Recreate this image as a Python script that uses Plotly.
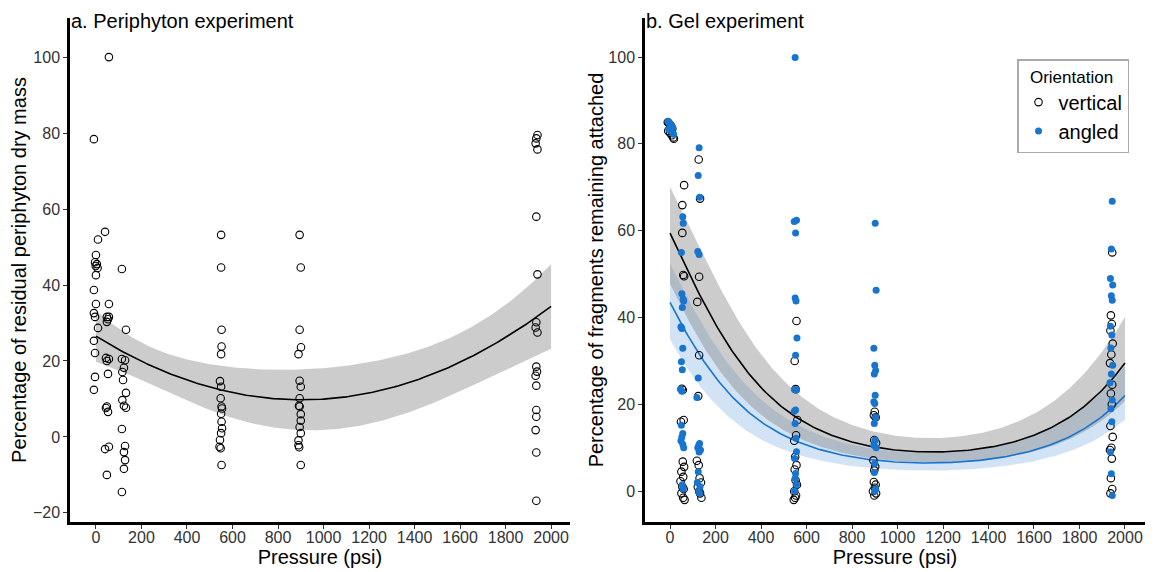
import numpy as np
import plotly.graph_objects as go

# ---------------- Panel a: Periphyton experiment ----------------
peri_pressure = [
    -9, 9, 0, -4, 4, -1, 7, 0, -9, 0, -9, -4, 9, -9, -4, -4, -9,
    57, 40, 57, 48, 53, 57, 48, 44, 57, 48, 53, 48, 44, 53, 40, 57, 48,
    114, 132, 114, 128, 123, 116, 119, 132, 116, 123, 132, 114, 128, 123, 128, 123, 114,
    550, 550, 552, 552, 550, 545, 550, 548, 552, 554, 550, 552, 554, 550, 545, 543, 548, 552,
    895, 900, 895, 901, 890, 895, 900, 895, 892, 895, 900, 900, 895, 900, 890, 890, 893, 900,
    1940, 1935, 1932, 1940, 1935, 1940, 1935, 1932, 1940, 1935, 1938, 1932, 1935, 1935, 1935, 1932, 1935, 1935,
]
peri_mass = [
    78.4, 52.0, 47.9, 46.0, 45.5, 45.0, 44.5, 42.6, 38.7, 35.0, 32.6, 31.6, 28.7, 25.3, 22.1, 15.8, 12.4,
    100, 54.0, 35.0, 31.6, 31.0, 31.6, 30.3, 20.8, 20.5, 20.0, 16.6, 8.0, 7.6, 6.6, -3.2, -2.6, -10.0,
    44.2, 28.2, 20.5, 20.2, 18.2, 17.1, 15.0, 11.6, 9.7, 8.2, 7.7, 2.1, -2.4, -4.0, -6.1, -8.4, -14.5,
    53.2, 44.6, 28.2, 23.8, 21.8, 14.7, 13.2, 10.2, 8.0, 7.5, 6.1, 4.0, 2.3, 1.0, -0.8, -2.6, -3.0, -7.4,
    53.2, 44.6, 28.2, 23.6, 21.8, 14.8, 13.2, 10.2, 8.2, 8.0, 6.0, 4.3, 2.6, 1.0, -0.9, -2.2, -2.7, -7.4,
    79.5, 78.6, 77.3, 75.7, 58.0, 42.8, 30.2, 28.8, 27.5, 18.5, 17.2, 16.1, 13.5, 7.1, 5.3, 1.8, -4.1, -16.8,
]

# ---------------- Panel b: Gel experiment ----------------
vert_pressure = [
    -10, -6, -2, 2, 6, 10, -8, 0, 8, 14, 17,
    62, 54, 54, 58, 62, 52, 56, 60, 48, 56, 62, 50, 58, 46, 54, 60, 50, 58, 64,
    126, 132, 128, 120, 128, 124, 118, 126, 130, 136, 122, 128, 132, 138,
    556, 548, 552, 560, 554, 546, 550, 556, 548, 552, 558, 546, 554, 550, 544,
    900, 896, 904, 898, 906, 894, 902, 898, 896, 904, 900, 892, 906, 898,
    1944, 1938, 1942, 1936, 1946, 1940, 1934, 1944, 1938, 1942, 1936, 1946, 1940, 1934, 1942, 1938, 1944, 1936,
]
vert_attached = [
    85.0, 84.8, 84.5, 84.2, 84.0, 83.5, 83.0, 82.5, 82.0, 81.5, 81.2,
    70.5, 65.9, 59.5, 49.8, 49.5, 23.6, 23.3, 16.4, 16.0, 6.8, 5.6, 4.5, 3.3, 2.3, 1.0, 0.5, -0.5, -1.5, -2.0,
    76.4, 67.4, 49.4, 43.6, 31.3, 21.9, 7.0, 6.0, 3.0, 2.0, 1.0, 0.0, -0.5, -1.5,
    39.2, 30.0, 23.5, 16.4, 12.9, 11.6, 7.9, 6.0, 5.0, 2.5, 1.5, 0.0, -1.0, -1.5, -2.0,
    18.3, 17.5, 17.0, 11.8, 11.1, 7.1, 5.7, 4.8, 2.1, 1.5, 0.8, 0.0, -0.5, -1.0,
    55.0, 40.5, 38.5, 37.0, 34.0, 31.5, 29.5, 24.5, 22.5, 20.0, 15.0, 12.5, 10.0, 9.5, 7.5, 3.0, 0.5, -0.5,
]
ang_pressure = [
    -8, -4, 0, 4, 8, 12, -6, 2, 10, 16,
    56, 58, 50, 52, 58, 60, 54, 48, 52, 56, 50, 54, 46, 52, 50, 56, 52, 48, 56, 60, 54, 58,
    128, 124, 130, 122, 128, 124, 118, 130, 126, 122, 134, 128, 124, 120, 132, 126, 130,
    550, 556, 546, 552, 550, 554, 558, 552, 548, 556, 552, 546, 550, 554, 556, 548, 552, 550, 556, 548,
    902, 906, 896, 900, 904, 898, 902, 896, 900, 904, 898, 902, 896, 906, 900, 898, 904, 900,
    1944, 1940, 1936, 1946, 1940, 1944, 1936, 1942, 1938, 1946, 1940, 1934, 1944, 1938, 1942, 1936, 1940, 1944,
]
ang_attached = [
    85.2, 84.9, 84.6, 84.3, 84.0, 83.7, 83.4, 83.0, 82.6, 82.2,
    63.2, 61.7, 55.0, 45.5, 44.2, 43.8, 42.3, 37.9, 37.5, 32.9, 29.8, 28.0, 23.5, 23.0, 15.2, 13.3, 12.5, 11.6, 10.8, 10.0, 1.5, 0.5,
    79.1, 72.7, 67.7, 55.2, 54.5, 26.1, 21.6, 11.0, 10.5, 10.0, 9.5, 9.0, 4.5, 2.0, 1.0, 0.0, -0.5,
    99.9, 62.4, 62.1, 59.5, 44.5, 43.8, 35.3, 31.3, 23.4, 23.3, 18.7, 18.4, 15.6, 12.2, 9.1, 7.5, 4.1, 3.0, 1.5, 0.0,
    61.7, 46.3, 32.9, 29.0, 27.8, 27.0, 22.1, 20.6, 20.2, 17.1, 15.6, 11.8, 10.6, 10.0, 6.4, 4.3, 0.5, 0.0,
    66.8, 55.8, 49.0, 47.5, 45.0, 44.0, 38.0, 36.0, 33.0, 29.0, 27.0, 25.0, 21.0, 19.0, 16.0, 9.0, 4.0, -1.0,
]

# Fitted logit-quadratic models (intercept, linear, quadratic) and CI half-width on logit scale
vert_fit_logit = [0.382, -0.004662, 2.018e-6]
ang_fit_logit = [-0.261, -0.004243, 1.871e-6]
vert_ci_logit = [0.335, 1.35e-7]
ang_ci_logit = [0.33, 0.3e-7]

x_ticks = list(range(0, 2001, 200))
peri_y_ticks = list(range(-20, 101, 20))
gel_y_ticks = list(range(0, 101, 20))

BLUE = "#1874CD"
FONT = "Liberation Sans, Arial, sans-serif"
W, H = 1150, 564  # page body has an 8px margin

grid = np.linspace(0, 2000, 201)

# OLS quadratic for panel a with 95% CI
xp = np.array(peri_pressure, float)
X = np.column_stack([np.ones_like(xp), xp, xp ** 2])
yv = np.array(peri_mass, float)
beta, *_ = np.linalg.lstsq(X, yv, rcond=None)
resid = yv - X @ beta
dof = len(yv) - 3
s2 = resid @ resid / dof
cov = s2 * np.linalg.inv(X.T @ X)
G = np.column_stack([np.ones_like(grid), grid, grid ** 2])
fit_a = G @ beta
se_a = np.sqrt(np.einsum("ij,jk,ik->i", G, cov, G))
lo_a, hi_a = fit_a - 1.985 * se_a, fit_a + 1.985 * se_a


def inv_logit(z):
    return 100.0 / (1.0 + np.exp(-z))


def logit_curve(coef, ci):
    eta = coef[0] + coef[1] * grid + coef[2] * grid ** 2
    w = ci[0] + ci[1] * (grid - 1000) ** 2
    return inv_logit(eta), inv_logit(eta - w), inv_logit(eta + w)


fit_v, lo_v, hi_v = logit_curve(vert_fit_logit, vert_ci_logit)
fit_b, lo_b, hi_b = logit_curve(ang_fit_logit, ang_ci_logit)

fig = go.Figure()

GREY_FILL = "rgba(128,128,128,0.4)"
BLUE_FILL = "rgba(24,116,205,0.2)"

# Panel a ribbon + line
fig.add_trace(go.Scatter(x=grid, y=lo_a, mode="lines", line=dict(width=0), showlegend=False,
                         hoverinfo="skip", xaxis="x", yaxis="y"))
fig.add_trace(go.Scatter(x=grid, y=hi_a, mode="lines", line=dict(width=0), fill="tonexty",
                         fillcolor=GREY_FILL, showlegend=False, hoverinfo="skip", xaxis="x", yaxis="y"))
fig.add_trace(go.Scatter(x=grid, y=fit_a, mode="lines", line=dict(color="black", width=1.6),
                         showlegend=False, xaxis="x", yaxis="y"))
fig.add_trace(go.Scatter(x=peri_pressure, y=peri_mass, mode="markers",
                         marker=dict(symbol="circle-open", size=7.5, color="black", line=dict(width=1.1)),
                         showlegend=False, xaxis="x", yaxis="y"))

# Panel b ribbons
fig.add_trace(go.Scatter(x=grid, y=lo_b, mode="lines", line=dict(width=0), showlegend=False,
                         hoverinfo="skip", xaxis="x2", yaxis="y2"))
fig.add_trace(go.Scatter(x=grid, y=hi_b, mode="lines", line=dict(width=0), fill="tonexty",
                         fillcolor=BLUE_FILL, showlegend=False, hoverinfo="skip", xaxis="x2", yaxis="y2"))
fig.add_trace(go.Scatter(x=grid, y=lo_v, mode="lines", line=dict(width=0), showlegend=False,
                         hoverinfo="skip", xaxis="x2", yaxis="y2"))
fig.add_trace(go.Scatter(x=grid, y=hi_v, mode="lines", line=dict(width=0), fill="tonexty",
                         fillcolor=GREY_FILL, showlegend=False, hoverinfo="skip", xaxis="x2", yaxis="y2"))
fig.add_trace(go.Scatter(x=grid, y=fit_v, mode="lines", line=dict(color="black", width=1.6),
                         showlegend=False, xaxis="x2", yaxis="y2"))
fig.add_trace(go.Scatter(x=grid, y=fit_b, mode="lines", line=dict(color=BLUE, width=1.6),
                         showlegend=False, xaxis="x2", yaxis="y2"))

fig.add_trace(go.Scatter(x=vert_pressure, y=vert_attached, mode="markers", name="vertical",
                         legendgroup="v",
                         marker=dict(symbol="circle-open", size=7.5, color="black", line=dict(width=1.1)),
                         xaxis="x2", yaxis="y2"))
fig.add_trace(go.Scatter(x=ang_pressure, y=ang_attached, mode="markers", name="angled",
                         legendgroup="a",
                         marker=dict(symbol="circle", size=7, color=BLUE),
                         xaxis="x2", yaxis="y2"))

axis_common = dict(showline=True, linecolor="black", linewidth=2.5, ticklen=4,
                   tickwidth=1, tickcolor="#333333", showgrid=False, zeroline=False,
                   tickfont=dict(size=16, color="#333333", family=FONT),
                   title_font=dict(size=20, color="black", family=FONT))


def px_x(p):
    return (p - 8) / W


def px_y(p):
    return 1 - (p - 8) / H


yd = [px_y(522), px_y(18)]
fig.update_layout(
    width=W, height=H,
    margin=dict(l=0, r=0, t=0, b=0),
    paper_bgcolor="white", plot_bgcolor="white",
    font=dict(family=FONT, color="black"),
    xaxis=dict(domain=[px_x(70), px_x(570)], range=[-114, 2083], tickvals=x_ticks, ticks="outside",
               ticklabelstandoff=-5,
               title=dict(text="Pressure (psi)", standoff=0), anchor="y", **axis_common),
    yaxis=dict(domain=yd, range=[-22.4, 110.3], tickvals=peri_y_ticks, ticks="outside",
               title=dict(text="Percentage of residual periphyton dry mass", standoff=6), anchor="x",
               **axis_common),
    xaxis2=dict(domain=[px_x(645), px_x(1145)], range=[-110, 2088], tickvals=x_ticks, ticks="outside",
                ticklabelstandoff=-5,
                title=dict(text="Pressure (psi)", standoff=0), anchor="y2", **axis_common),
    yaxis2=dict(domain=yd, range=[-7.1, 109], tickvals=gel_y_ticks, ticks="outside",
                title=dict(text="Percentage of fragments remaining attached", standoff=0), anchor="x2",
                **axis_common),
    legend=dict(x=px_x(1017), y=px_y(59), xanchor="left", yanchor="top",
                bordercolor="#aaaaaa", borderwidth=1.5, bgcolor="white", traceorder="normal",
                title=dict(text="&nbsp;&nbsp;Orientation", font=dict(size=17, family=FONT)),
                font=dict(size=20, family=FONT), itemwidth=30, tracegroupgap=1),
    annotations=[
        dict(text="a. Periphyton experiment", x=px_x(69), y=1.0, xref="paper", yref="paper",
             xanchor="left", yanchor="top", showarrow=False, font=dict(size=20, family=FONT)),
        dict(text="b. Gel experiment", x=px_x(644), y=1.0, xref="paper", yref="paper",
             xanchor="left", yanchor="top", showarrow=False, font=dict(size=20, family=FONT)),
    ],
)

fig.write_html("out.html")
